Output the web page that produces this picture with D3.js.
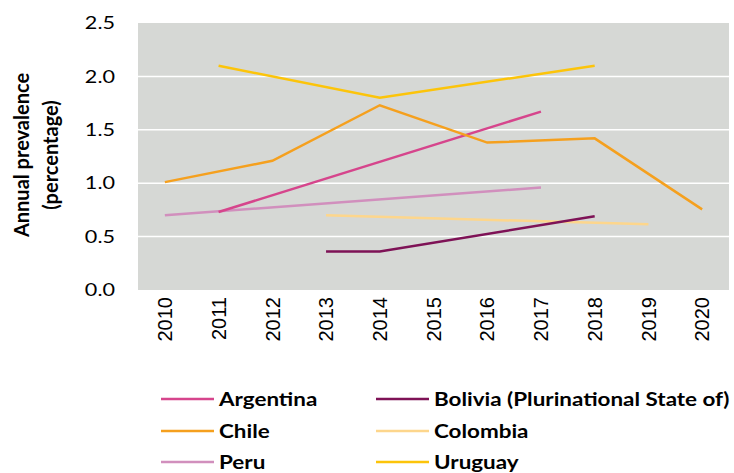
<!DOCTYPE html>
<html><head><meta charset="utf-8">
<script src="https://cdn.jsdelivr.net/npm/d3@7"></script>
<style>body{margin:0;background:#fff;} svg{display:block;}</style>
</head><body>
<svg id="chart" width="734" height="473"></svg>
<script>
const years = ["2010","2011","2012","2013","2014","2015","2016","2017","2018","2019","2020"];
const yTicks = [0, 0.5, 1.0, 1.5, 2.0, 2.5];
const argentina = [["2011",0.73],["2017",1.67]];
const bolivia = [["2013",0.36],["2014",0.36],["2018",0.69]];
const chile = [["2010",1.01],["2012",1.21],["2014",1.73],["2016",1.38],["2018",1.42],["2020",0.755]];
const colombia = [["2013",0.70],["2019",0.615]];
const peru = [["2010",0.70],["2017",0.96]];
const uruguay = [["2011",2.10],["2014",1.80],["2018",2.10]];
const seriesNames = ["Argentina","Bolivia (Plurinational State of)","Chile","Colombia","Peru","Uruguay"];
const seriesColors = ["#d6458c","#7e1256","#f5a01e","#fdd68c","#d18fbd","#fcc40a"];
const seriesData = [argentina, bolivia, chile, colombia, peru, uruguay];
const drawOrder = [4, 0, 3, 1, 2, 5];

const svg = d3.select("#chart");
const m = {left:138, right:5, top:23, bottom:183};
const W = 734, H = 473;
const x = d3.scaleBand().domain(years).range([m.left, W - m.right]);
const y = d3.scaleLinear().domain([0, 2.5]).range([H - m.bottom, m.top]);

svg.append("rect").attr("x", m.left).attr("y", m.top)
  .attr("width", W - m.right - m.left).attr("height", H - m.bottom - m.top)
  .attr("fill", "#d6d8d5");

svg.append("g").selectAll("line").data(yTicks.filter(d => d > 0 && d < 2.5)).join("line")
  .attr("x1", m.left).attr("x2", W - m.right)
  .attr("y1", d => y(d)).attr("y2", d => y(d))
  .attr("stroke", "#fff").attr("stroke-width", 1.5);

const yAxis = svg.append("g").attr("transform", `translate(${m.left},0)`)
  .call(d3.axisLeft(y).tickValues(yTicks).tickFormat(d3.format(".1f")).tickSize(0));
yAxis.select(".domain").remove();
yAxis.selectAll("text").attr("font-family", "Lato, 'Open Sans', sans-serif").attr("font-size", 18).attr("fill", "#000")
  .attr("x", 0).attr("transform", "translate(-23,0) scale(1.2,1)");

const xAxis = svg.append("g").attr("transform", `translate(0,${H - m.bottom})`)
  .call(d3.axisBottom(x).tickSize(0));
xAxis.select(".domain").remove();
xAxis.selectAll("text")
  .attr("font-family", "'Liberation Sans', Arial, sans-serif").attr("font-size", 20).attr("fill", "#000")
  .attr("transform", "rotate(-90)").attr("text-anchor", "end")
  .attr("x", -7).attr("y", 0).attr("dy", "0.36em");

const line = d3.line().x(d => x(d[0]) + x.bandwidth() / 2).y(d => y(d[1]));
drawOrder.forEach(i => {
  svg.append("path").datum(seriesData[i]).attr("d", line)
    .attr("fill", "none").attr("stroke", seriesColors[i]).attr("stroke-width", 2.5);
});

const ylab = svg.append("text").attr("transform", "translate(22,155) rotate(-90)")
  .attr("text-anchor", "middle").attr("font-family", "Lato, 'Open Sans', sans-serif")
  .attr("font-weight", "bold").attr("font-size", 20).attr("fill", "#000");
ylab.append("tspan").attr("x", 0).attr("dy", "0.35em").text("Annual prevalence");
ylab.append("tspan").attr("x", 0).attr("dy", "1.45em").text("(percentage)");

const legX = [161, 376], legY = [399, 431, 462];
const leg = svg.append("g").selectAll("g").data(seriesNames).join("g")
  .attr("transform", (d, i) => `translate(${legX[i % 2]},${legY[Math.floor(i / 2)]})`);
leg.append("line").attr("x1", 0).attr("x2", 53).attr("y1", 0).attr("y2", 0)
  .attr("stroke", (d, i) => seriesColors[i]).attr("stroke-width", 2.5);
leg.append("text").attr("x", 0).attr("dy", "0.36em")
  .attr("transform", "translate(58,0) scale(1.15,1)")
  .attr("font-family", "Lato, 'Open Sans', sans-serif").attr("font-weight", "bold")
  .attr("font-size", 19.5).attr("fill", "#000").text(d => d);
</script>
</body></html>
